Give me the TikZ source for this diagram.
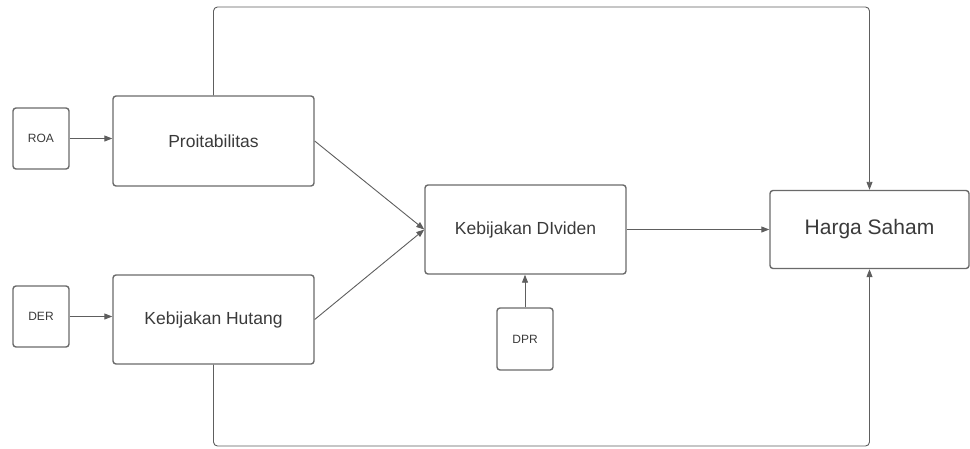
\documentclass[tikz,border=0pt]{standalone}
\usepackage{fontspec}
\setmainfont{Liberation Sans}
\usetikzlibrary{arrows.meta}
\definecolor{edgec}{HTML}{6A6A6A}
\definecolor{linec}{HTML}{5E5E5E}
\definecolor{textc}{HTML}{3A3A3A}
\begin{document}
\begin{tikzpicture}[x=1pt,y=-1pt,
  box/.style={draw=edgec,line width=1.4pt,rounded corners=3pt,inner sep=0pt,
    text=textc,font=\fontsize{17.5}{20}\selectfont},
  smallbox/.style={box,font=\fontsize{12}{14}\selectfont},
  conn/.style={draw=linec,line width=0.9pt,-{Triangle[length=8pt,width=6pt]}},
  plain/.style={draw=linec,line width=0.9pt}]
\useasboundingbox (0,0) rectangle (970,448);
\node[smallbox,minimum width=56pt,minimum height=61pt] (roa) at (41,138.5) {ROA};
\node[box,minimum width=201pt,minimum height=90pt] (prof) at (213.5,141) {Proitabilitas};
\node[smallbox,minimum width=56pt,minimum height=61pt] (der) at (41,316.5) {DER};
\node[box,minimum width=201pt,minimum height=89pt] (hut) at (213.5,319.5) {Kebijakan Hutang};
\node[box,minimum width=201pt,minimum height=89pt] (div) at (525.5,229.5) {Kebijakan DIviden};
\node[smallbox,minimum width=56pt,minimum height=62pt] (dpr) at (525,339) {DPR};
\node[box,minimum width=199pt,minimum height=78pt,font=\fontsize{21}{24}\selectfont] (hs) at (869.5,229.5) {Harga Saham};
\coordinate (topy) at (0,7);
\coordinate (boty) at (0,446);
\draw[conn] (roa.east) -- (roa.east -| prof.west);
\draw[conn] (der.east) -- (der.east -| hut.west);
\draw[conn] (prof.east) -- (div.west);
\draw[conn] (hut.east) -- (div.west);
\draw[conn] (div.east) -- (div.east -| hs.west);
\draw[conn] (dpr.north) -- (dpr.north |- div.south);
\draw[conn,rounded corners=4pt] (prof.north) -- (prof.north |- topy) -| (hs.north);
\draw[conn,rounded corners=4pt] (hut.south) -- (hut.south |- boty) -| (hs.south);
\end{tikzpicture}
\end{document}
